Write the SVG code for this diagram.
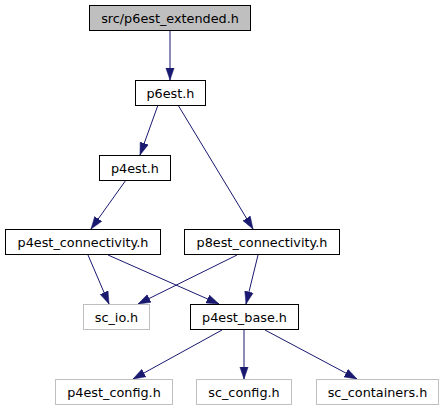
<svg xmlns="http://www.w3.org/2000/svg" width="444" height="411" viewBox="0 0 444 411">
<style>
.n rect{fill:#fff;stroke:#000;stroke-width:1}
.n.g rect{stroke:#bfbfbf}
.n.root rect{fill:#bfbfbf}
.n text{font-family:"DejaVu Sans",sans-serif;font-size:12.8px;text-anchor:middle;fill:#000}
#edges path{fill:none;stroke:#191970;stroke-width:1;marker-end:url(#ah)}
</style>
<defs>
<marker id="ah" markerUnits="userSpaceOnUse" markerWidth="13" markerHeight="10" refX="12.5" refY="5" orient="auto">
<path d="M0,0.7 L12.5,5 L0,9.3 z" fill="#191970" stroke="#191970" stroke-width="0.5"/>
</marker>
</defs>
<rect width="444" height="411" fill="#fff"/>
<g id="edges">
<path d="M170,31 L170,80"/>
<path d="M158,105 L140,155"/>
<path d="M178,105 L253,229"/>
<path d="M126,180 L91,229"/>
<path d="M88,255 L109,304"/>
<path d="M108,255 L219,304"/>
<path d="M237,255 L138,304"/>
<path d="M258,255 L246,304"/>
<path d="M222,330 L133,379"/>
<path d="M244,330 L244,379"/>
<path d="M265,330 L357,379"/>
</g>
<g id="n_p6est_extended" class="n root"><rect x="89.5" y="5.5" width="161" height="25"/><text x="170" y="22.5">src/p6est_extended.h</text></g>
<g id="n_p6est" class="n"><rect x="135.5" y="80.5" width="70" height="25"/><text x="170.5" y="97.5">p6est.h</text></g>
<g id="n_p4est" class="n"><rect x="99.5" y="155.5" width="71" height="25"/><text x="135" y="172.5">p4est.h</text></g>
<g id="n_p4est_connectivity" class="n"><rect x="5.5" y="229.5" width="155" height="25"/><text x="83" y="246.5">p4est_connectivity.h</text></g>
<g id="n_p8est_connectivity" class="n"><rect x="184.5" y="229.5" width="155" height="25"/><text x="262" y="246.5">p8est_connectivity.h</text></g>
<g id="n_sc_io" class="n g"><rect x="83.5" y="304.5" width="66" height="25"/><text x="116.5" y="321.5">sc_io.h</text></g>
<g id="n_p4est_base" class="n"><rect x="190.5" y="304.5" width="108" height="25"/><text x="244.5" y="321.5">p4est_base.h</text></g>
<g id="n_p4est_config" class="n g"><rect x="55.5" y="379.5" width="117" height="25"/><text x="114" y="396.5">p4est_config.h</text></g>
<g id="n_sc_config" class="n g"><rect x="196.5" y="379.5" width="95" height="25"/><text x="244" y="396.5">sc_config.h</text></g>
<g id="n_sc_containers" class="n g"><rect x="316.5" y="379.5" width="122" height="25"/><text x="377.5" y="396.5">sc_containers.h</text></g>
</svg>
